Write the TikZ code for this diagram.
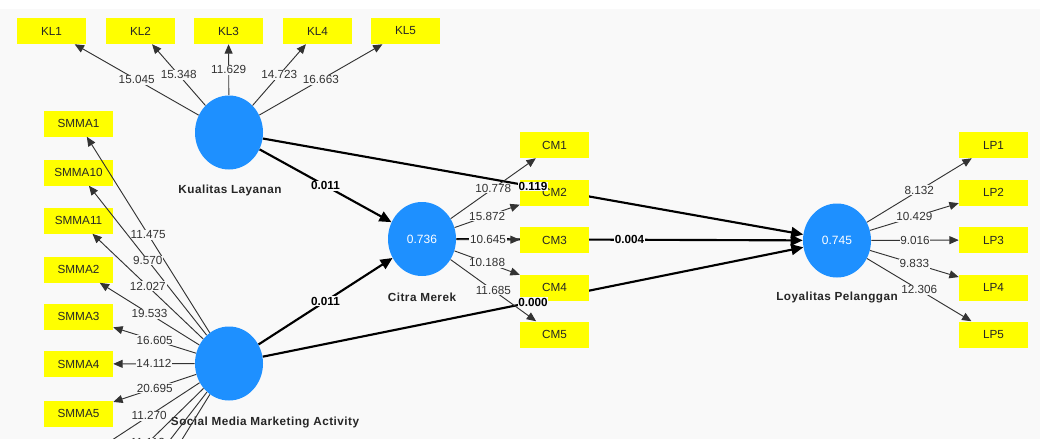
\documentclass[tikz,border=0pt]{standalone}
\usepackage{fontspec}
\setmainfont{Liberation Sans}
\newfontfamily\namefont[LetterSpace=4]{Liberation Sans}
\usetikzlibrary{arrows.meta,shapes.geometric}
\definecolor{bg}{HTML}{F9F9F9}
\definecolor{lvblue}{HTML}{1E90FF}
\definecolor{ind}{HTML}{FFFF00}
\definecolor{ink}{HTML}{333333}
\pgfdeclarelayer{back}
\pgfsetlayers{back,main}
\begin{document}
\begin{tikzpicture}[x=0.75pt,y=-0.75pt,
  lv/.style={ellipse, fill=lvblue, minimum width=51pt, minimum height=55.5pt, inner sep=0pt, text=white, font=\fontsize{9}{10}\selectfont},
  lvname/.style={font=\namefont\bfseries\fontsize{8.8}{10}\selectfont, text=black!85},
  mv/.style={rectangle, fill=ind, minimum width=51.75pt, minimum height=19.5pt, inner sep=0pt, font=\fontsize{8.8}{10}\selectfont, text=black!85},
  ghost/.style={rectangle, minimum width=51.75pt, minimum height=19.5pt, inner sep=0pt},
  refl/.style={draw=ink, line width=0.7pt, -{Triangle[length=7pt,width=6pt]}},
  wt/.style={fill=bg, inner sep=0.6pt, text=ink, font=\fontsize{8.8}{10}\selectfont},
  struct/.style={draw=black, line width=1.6pt, -{Triangle[length=9pt,width=8pt]}},
  pv/.style={fill=bg, inner sep=0.6pt, text=black, font=\bfseries\fontsize{8.8}{10}\selectfont}]
\useasboundingbox (0,0) rectangle (1040,439);
\clip (0,0) rectangle (1040,439);
% latent variables
\node[lv] (kl) at (229,132.5) {};
\node[lvname] (klname) at (230,190) {Kualitas Layanan};
\node[lv] (smma) at (229,363.5) {};
\node[lvname] (smmaname) at (265,422) {Social Media Marketing Activity};
\node[lv] (cm) at (422,239) {0.736};
\node[lvname] (cmname) at (422,297) {Citra Merek};
\node[lv] (lp) at (837,240.5) {0.745};
\node[lvname] (lpname) at (837,297) {Loyalitas Pelanggan};
% indicators KL
\node[mv] (kl1) at (51.5,31) {KL1};
\node[mv] (kl2) at (140.5,31) {KL2};
\node[mv] (kl3) at (228.5,31) {KL3};
\node[mv] (kl4) at (317.5,31) {KL4};
\node[mv] (kl5) at (405.5,31) {KL5};
% indicators SMMA
\node[mv] (s1) at (78.5,123.5) {SMMA1};
\node[mv] (s10) at (78.5,172.5) {SMMA10};
\node[mv] (s11) at (78.5,220.5) {SMMA11};
\node[mv] (s2) at (78.5,269.5) {SMMA2};
\node[mv] (s3) at (78.5,316.5) {SMMA3};
\node[mv] (s4) at (78.5,364) {SMMA4};
\node[mv] (s5) at (78.5,413.5) {SMMA5};
\node[ghost] (s6) at (78.5,462) {};
\node[ghost] (s7) at (78.5,510.5) {};
\node[ghost] (s8) at (78.5,558.5) {};
\node[ghost] (s9) at (78.5,607) {};
% indicators CM
\node[mv] (cm1) at (554.5,145) {CM1};
\node[mv] (cm2) at (554.5,192.5) {CM2};
\node[mv] (cm3) at (554.5,240) {CM3};
\node[mv] (cm4) at (554.5,287.5) {CM4};
\node[mv] (cm5) at (554.5,334.5) {CM5};
% indicators LP
\node[mv] (lp1) at (993.5,145) {LP1};
\node[mv] (lp2) at (993.5,192.5) {LP2};
\node[mv] (lp3) at (993.5,240) {LP3};
\node[mv] (lp4) at (993.5,287.5) {LP4};
\node[mv] (lp5) at (993.5,334.5) {LP5};
% background and structural paths
\begin{pgfonlayer}{back}
\fill[white] (0,0) rectangle (1040,9);
\fill[bg] (0,9) rectangle (1040,439);
\draw[struct] (kl) -- (cm);
\draw[struct] (smma) -- (cm);
\draw[struct] (kl) -- (lp);
\draw[struct] (smma) -- (lp);
\draw[struct] (cm) -- (lp);
\end{pgfonlayer}
% outer loadings
\draw[refl] (kl) -- (kl1) node[wt,midway]{15.045};
\draw[refl] (kl) -- (kl2) node[wt,midway]{15.348};
\draw[refl] (kl) -- (kl3) node[wt,midway]{11.629};
\draw[refl] (kl) -- (kl4) node[wt,midway]{14.723};
\draw[refl] (kl) -- (kl5) node[wt,midway]{16.663};
\draw[refl] (smma) -- (s1) node[wt,midway]{11.475};
\draw[refl] (smma) -- (s10) node[wt,midway]{9.570};
\draw[refl] (smma) -- (s11) node[wt,midway]{12.027};
\draw[refl] (smma) -- (s2) node[wt,midway]{19.533};
\draw[refl] (smma) -- (s3) node[wt,midway]{16.605};
\draw[refl] (smma) -- (s4) node[wt,midway]{14.112};
\draw[refl] (smma) -- (s5) node[wt,midway]{20.695};
\draw[refl] (smma) -- (s6) node[wt,midway]{11.270};
\draw[refl] (smma) -- (s7) node[wt,midway]{11.112};
\draw[refl] (smma) -- (s8);
\draw[refl] (smma) -- (s9);
\draw[refl] (cm) -- (cm1) node[wt,midway]{10.778};
\draw[refl] (cm) -- (cm2) node[wt,midway]{15.872};
\draw[refl] (cm) -- (cm3) node[wt,midway]{10.645};
\draw[refl] (cm) -- (cm4) node[wt,midway]{10.188};
\draw[refl] (cm) -- (cm5) node[wt,midway]{11.685};
\draw[refl] (lp) -- (lp1) node[wt,midway]{8.132};
\draw[refl] (lp) -- (lp2) node[wt,midway]{10.429};
\draw[refl] (lp) -- (lp3) node[wt,midway]{9.016};
\draw[refl] (lp) -- (lp4) node[wt,midway]{9.833};
\draw[refl] (lp) -- (lp5) node[wt,midway]{12.306};
% path coefficient labels
\path (kl) -- (cm) node[pv,midway]{0.011};
\path (smma) -- (cm) node[pv,midway]{0.011};
\path (kl) -- (lp) node[pv,midway]{0.119};
\path (smma) -- (lp) node[pv,midway]{0.000};
\path (cm) -- (lp) node[pv,midway]{0.004};
\end{tikzpicture}
\end{document}
